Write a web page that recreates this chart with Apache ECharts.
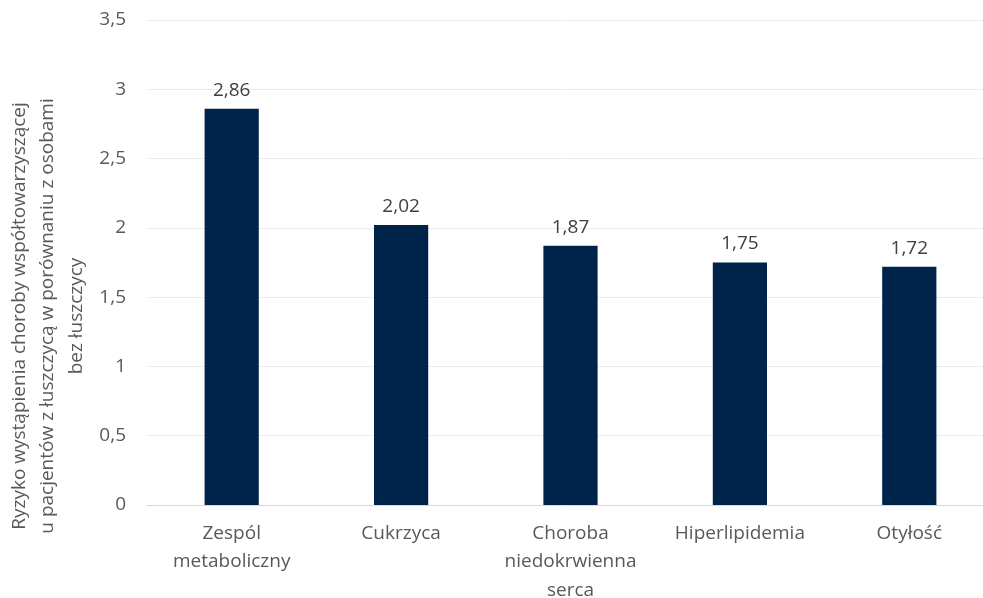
<!DOCTYPE html>
<html>
<head>
<meta charset="utf-8">
<script src="https://cdn.jsdelivr.net/npm/echarts@6/dist/echarts.min.js"></script>
<style>
  html, body { margin: 0; padding: 0; background: #ffffff; overflow: hidden; }
  #chart { width: 983px; height: 598px; }
</style>
</head>
<body>
<div id="chart"></div>
<script>
// Comorbidity risk ratios in psoriasis patients
const categories = ['Zespól\nmetaboliczny', 'Cukrzyca', 'Choroba\nniedokrwienna\nserca', 'Hiperlipidemia', 'Otyłość'];
const riskValues = [2.86, 2.02, 1.87, 1.75, 1.72];
const yTicks = [0, 0.5, 1, 1.5, 2, 2.5, 3, 3.5];
const yTitle = 'Ryzyko wystąpienia choroby współtowarzyszącej\nu pacjentów z łuszczycą w porównaniu z osobami\nbez łuszczycy';

const FONT = '"Open Sans", "Noto Sans", sans-serif';
const comma = v => String(v).replace('.', ',');

const chart = echarts.init(document.getElementById('chart'));
chart.setOption({
  animation: false,
  backgroundColor: '#ffffff',
  textStyle: { fontFamily: FONT },
  grid: {
    left: 147, top: 20, width: 847, height: 485,
    containLabel: false, outerBoundsMode: 'none'
  },
  xAxis: {
    type: 'category',
    data: categories,
    axisLine: { show: true, lineStyle: { color: '#d9d9d9', width: 1 } },
    axisTick: { show: false },
    axisLabel: {
      color: '#595959', fontSize: 19, fontFamily: FONT,
      lineHeight: 28.5, margin: 14, interval: 0
    }
  },
  yAxis: {
    type: 'value',
    min: yTicks[0],
    max: yTicks[yTicks.length - 1],
    interval: 0.5,
    axisLine: { show: false },
    axisTick: { show: false },
    splitLine: { lineStyle: { color: '#ececec', width: 1 } },
    axisLabel: {
      color: '#595959', fontSize: 19, fontFamily: FONT, margin: 21,
      formatter: v => comma(v)
    }
  },
  graphic: [{
    type: 'text',
    x: 48, y: 316,
    rotation: Math.PI / 2,
    style: {
      text: yTitle,
      fill: '#595959',
      font: '19px ' + FONT,
      lineHeight: 28.5,
      align: 'center',
      verticalAlign: 'middle'
    }
  }],
  series: [{
    type: 'bar',
    data: riskValues,
    barWidth: '32%',
    itemStyle: { color: '#00234a' },
    label: {
      show: true, position: 'top', distance: 9,
      color: '#404040', fontSize: 19, fontFamily: FONT,
      formatter: p => comma(p.value)
    }
  }]
});
</script>
</body>
</html>
